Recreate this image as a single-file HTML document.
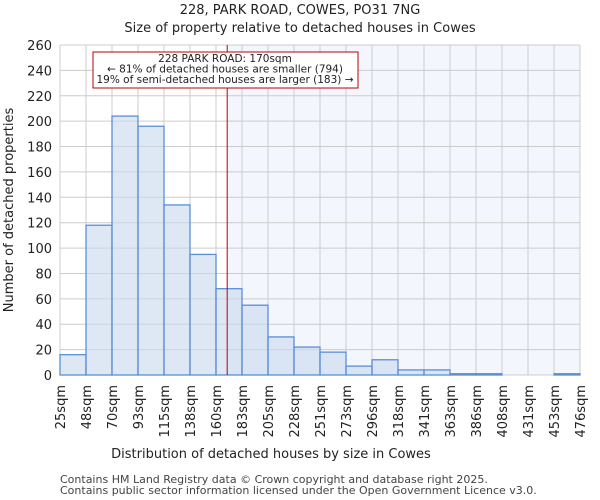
<!DOCTYPE html>
<html><head><meta charset="utf-8"><style>
body{margin:0;background:#fff;}
svg{display:block;font-family:"DejaVu Sans","Liberation Sans",sans-serif;}
</style></head><body>
<svg id="chart" width="600" height="500">
<text x="300" y="14" text-anchor="middle" font-size="13" fill="#222">228, PARK ROAD, COWES, PO31 7NG</text>
<text x="300" y="32" text-anchor="middle" font-size="13" fill="#222">Size of property relative to detached houses in Cowes</text>
<g id="plot"></g>
<text x="271" y="458" text-anchor="middle" font-size="13" fill="#222">Distribution of detached houses by size in Cowes</text>
<text transform="translate(13,210) rotate(-90)" text-anchor="middle" font-size="13" fill="#222">Number of detached properties</text>
<text x="60" y="483" font-size="11" fill="#444">Contains HM Land Registry data © Crown copyright and database right 2025.</text>
<text x="60" y="494" font-size="11" fill="#444">Contains public sector information licensed under the Open Government Licence v3.0.</text>
</svg>
<script>
const categories=["25sqm","48sqm","70sqm","93sqm","115sqm","138sqm","160sqm","183sqm","205sqm","228sqm","251sqm","273sqm","296sqm","318sqm","341sqm","363sqm","386sqm","408sqm","431sqm","453sqm","476sqm"];
const counts=[16,118,204,196,134,95,68,55,30,22,18,7,12,4,4,1,1,0,0,1];
const yTicks=[0,20,40,60,80,100,120,140,160,180,200,220,240,260];
const binStart=25, binWidth=22.55, markerValue=170;
const L=60,R=580,T=45,B=375,yMax=260;
const NS="http://www.w3.org/2000/svg";
const g=document.getElementById('plot');
const xs=i=>L+(R-L)*i/counts.length;
const xv=v=>L+(R-L)*(v-binStart)/(binWidth*counts.length);
const ys=v=>B-(B-T)*v/yMax;
function mk(t,a){const e=document.createElementNS(NS,t);for(const k in a)e.setAttribute(k,a[k]);g.appendChild(e);return e;}
const mx=xv(markerValue);
let e=mk('rect',{x:mx,y:T,width:R-mx,height:B-T,fill:'#f3f6fd'});


yTicks.forEach(v=>{
 let l=mk('line',{x1:L,x2:R,y1:ys(v),y2:ys(v),stroke:'#ccc','stroke-width':1});
 
 
 let t=mk('text',{x:L-8,y:ys(v)+5,'text-anchor':'end','font-size':13,fill:'#222'});
 t.textContent=v;
 
 
});
categories.forEach((c,i)=>{
 let l=mk('line',{x1:xs(i),x2:xs(i),y1:T,y2:B,stroke:'#ccc','stroke-width':1});
 
 
 let t=mk('text',{transform:`translate(${xs(i)+5},${B+10}) rotate(-90)`,'text-anchor':'end','font-size':13,fill:'#222'});
 t.textContent=c;
 
 
});
counts.forEach((v,i)=>{
 let r=mk('rect',{x:xs(i),y:ys(v),width:xs(i+1)-xs(i),height:B-ys(v),fill:'rgba(200,216,238,0.6)',stroke:'#5b8fd6','stroke-width':1.3});
 
 
});
e=mk('line',{x1:mx,x2:mx,y1:T,y2:B,stroke:'#b00','stroke-width':1});


e=mk('rect',{x:93,y:52,width:265,height:36,fill:'#fff',stroke:'#b00','stroke-width':1});


["228 PARK ROAD: 170sqm","← 81% of detached houses are smaller (794)","19% of semi-detached houses are larger (183) →"].forEach((s,i)=>{
 let t=mk('text',{x:225,y:62+i*10.5,'text-anchor':'middle','font-size':10.5,fill:'#222'});
 t.textContent=s;
 
 
});
</script>
</body></html>
